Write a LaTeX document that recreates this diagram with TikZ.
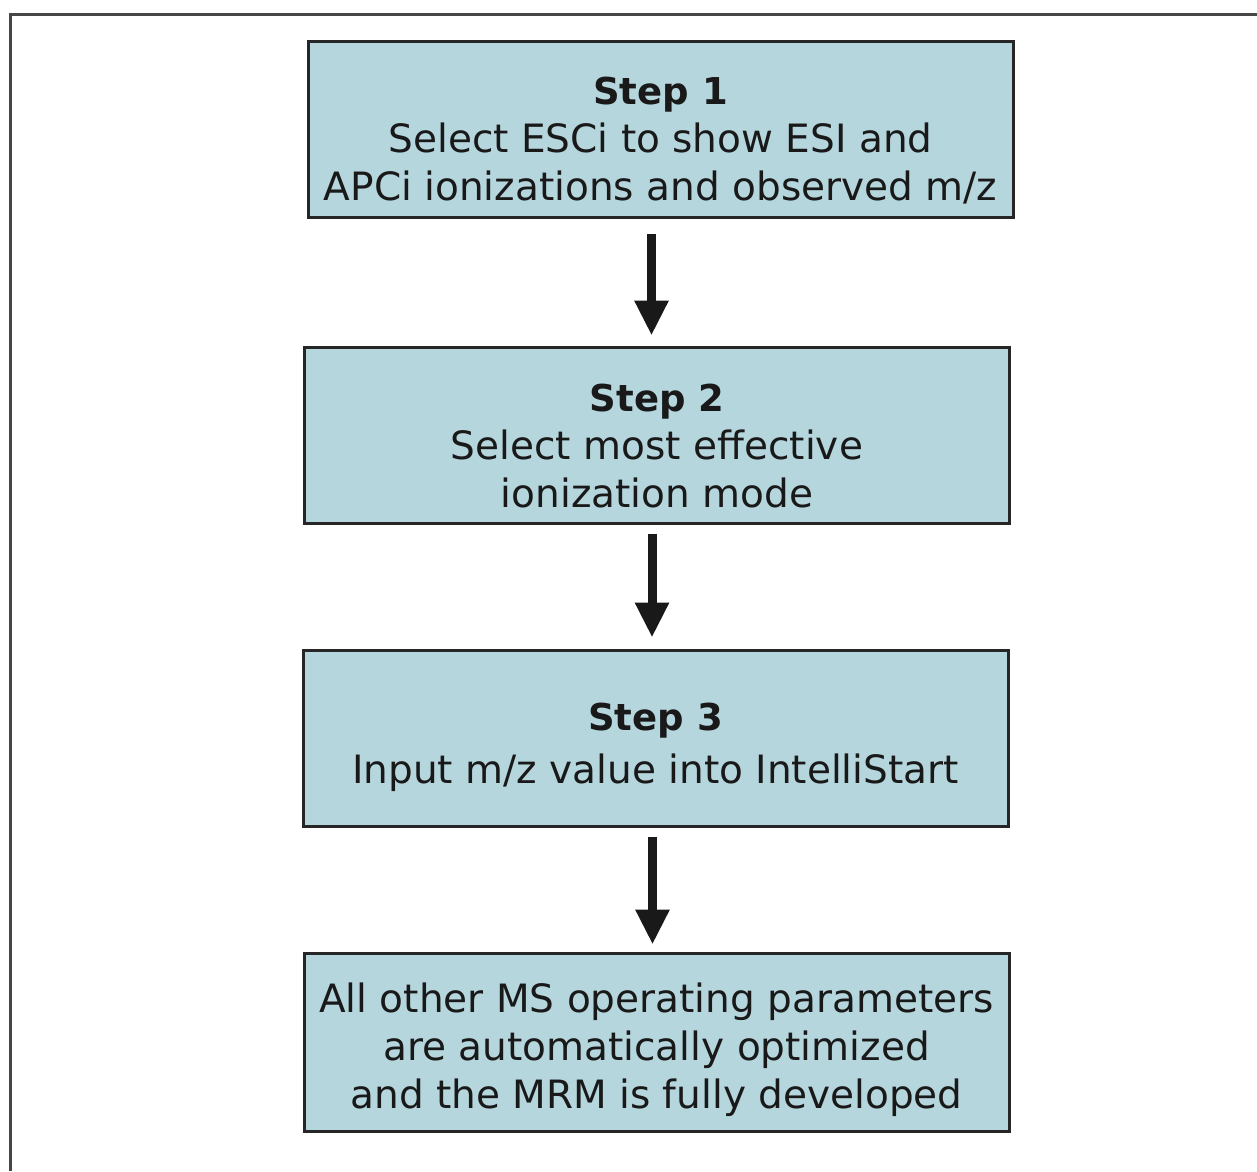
\documentclass[tikz,border=0pt]{standalone}
\usepackage{fontspec}
\setmainfont{DejaVu Sans}
\usetikzlibrary{arrows.meta}
\definecolor{boxfill}{RGB}{181,214,221}
\definecolor{framegray}{RGB}{70,70,70}
\newcommand{\steptitle}[2]{\rule{0pt}{#1pt}{\fontsize{37}{48}\selectfont\bfseries #2}}
\tikzset{
  stepbox/.style={draw=black!85, line width=3pt, fill=boxfill, align=center,
    minimum width=705pt, minimum height=176pt, inner sep=0pt,
    font=\fontsize{39}{48}\selectfont, text=black!90},
  flowarrow/.style={line width=9pt, -{Triangle[width=32pt,length=35pt]}, black!90}
}
\begin{document}
\begin{tikzpicture}[x=1pt,y=-1pt]
\useasboundingbox (0,0) rectangle (1257,1171);
\draw[framegray, line width=3pt] (10,1171) -- (10,14) -- (1257,14);
\node[stepbox] (b1) at (660.5,129.5) {\steptitle{50}{Step 1}\\Select ESCi to show ESI and\\APCi ionizations and observed m/z};
\node[stepbox] (b2) at (657,435) {\steptitle{49}{Step 2}\\Select most effective\\ionization mode};
\node[stepbox] (b3) at (655.5,738) {\steptitle{47}{Step 3}\\[5pt] Input m/z value into IntelliStart};
\node[stepbox, minimum height=178pt] (b4) at (656.5,1042) {\rule{0pt}{45pt}All other MS operating parameters\\are automatically optimized\\and the MRM is fully developed};
\draw[flowarrow, shorten <=15pt, shorten >=10pt] ([xshift=-9pt]b1.south) -- ([xshift=-9pt]b1.south |- b2.north);
\draw[flowarrow, shorten <=9pt, shorten >=11pt] ([xshift=-5pt]b2.south) -- ([xshift=-5pt]b2.south |- b3.north);
\draw[flowarrow, shorten <=9pt, shorten >=7pt] ([xshift=-3pt]b3.south) -- ([xshift=-3pt]b3.south |- b4.north);
\end{tikzpicture}
\end{document}
